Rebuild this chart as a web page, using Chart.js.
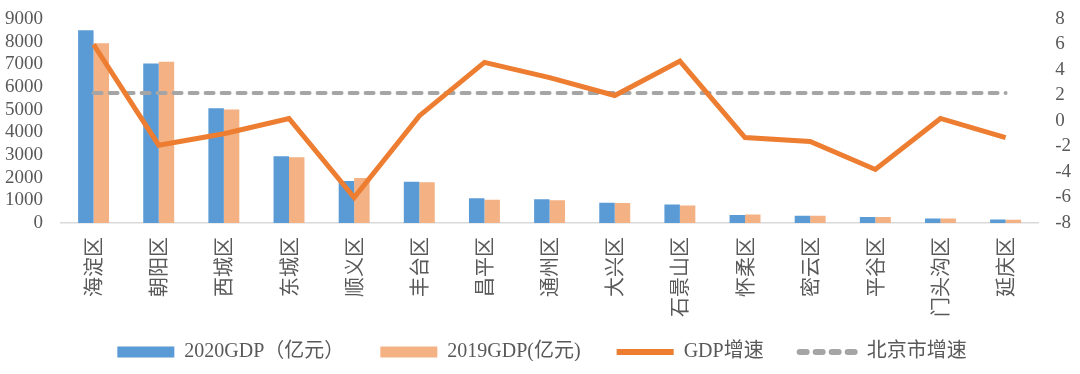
<!DOCTYPE html>
<html>
<head>
<meta charset="utf-8">
<script src="https://cdn.jsdelivr.net/npm/chart.js@4/dist/chart.umd.min.js"></script>
<style>
  html, body { margin: 0; padding: 0; background: #fff; }
  #wrap { width: 1080px; height: 374px; }
</style>
</head>
<body>
<div id="wrap"><canvas id="chart"></canvas></div>
<script>
const districts = ['海淀区', '朝阳区', '西城区', '东城区', '顺义区', '丰台区', '昌平区', '通州区',
  '大兴区', '石景山区', '怀柔区', '密云区', '平谷区', '门头沟区', '延庆区'];
const gdp2020 = [8505, 7037, 5061, 2945, 1854, 1825, 1096, 1052, 890, 816, 350, 320, 263, 202, 158];
const gdp2019 = [7926, 7116, 5007, 2906, 1984, 1797, 1022, 1008, 877, 772, 377, 320, 263, 200, 145];
const gdpGrowth = [6.0, -1.9, -1.0, 0.2, -6.0, 0.4, 4.6, 3.4, 2.0, 4.7, -1.3, -1.6, -3.8, 0.2, -1.3];
const beijingGrowth = [2.2, 2.2, 2.2, 2.2, 2.2, 2.2, 2.2, 2.2, 2.2, 2.2, 2.2, 2.2, 2.2, 2.2, 2.2];

const leftTicks = { min: 0, max: 9000, step: 1000 };
const rightTicks = { min: -8, max: 8, step: 2 };

const serif = "'Liberation Serif', 'Noto Sans CJK SC', serif";
const cjk = "'Noto Sans CJK SC', sans-serif";
const textColor = '#595959';

// drop the extra edge padding chart.js reserves for tick labels
function noEdgePadding(scale) {
  scale.paddingLeft = 0;
  scale.paddingRight = 0;
  scale.paddingTop = 0;
  scale.paddingBottom = 0;
}

// chart.js reserves the tick padding twice on a vertical axis, keep it once
function tightY(scale) {
  noEdgePadding(scale);
  scale.width -= scale.options.ticks.padding;
}

// nudge the legend row up and a touch right, keeps the wide gaps between items
const legendLift = {
  id: 'legendLift',
  afterLayout(chart) {
    const lg = chart.legend;
    lg.top -= 13;
    lg.bottom -= 13;
    lg.left += 4;
    lg.right += 4;
  }
};

new Chart(document.getElementById('chart'), {
  data: {
    labels: districts,
    datasets: [
      {
        type: 'bar',
        label: '2020GDP（亿元）',
        data: gdp2020,
        backgroundColor: '#5B9BD5',
        yAxisID: 'y',
        order: 2,
        categoryPercentage: 0.475,
        barPercentage: 1.0
      },
      {
        type: 'bar',
        label: '2019GDP(亿元)',
        data: gdp2019,
        backgroundColor: '#F4B183',
        yAxisID: 'y',
        order: 2,
        categoryPercentage: 0.475,
        barPercentage: 1.0
      },
      {
        type: 'line',
        label: 'GDP增速',
        data: gdpGrowth,
        borderColor: '#ED7D31',
        backgroundColor: '#ED7D31',
        borderWidth: 5,
        tension: 0,
        pointRadius: 0,
        yAxisID: 'y2',
        order: 0
      },
      {
        type: 'line',
        label: '北京市增速',
        data: beijingGrowth,
        borderColor: '#A5A5A5',
        backgroundColor: '#A5A5A5',
        borderWidth: 4,
        borderDash: [8, 8],
        borderCapStyle: 'round',
        tension: 0,
        pointRadius: 0,
        yAxisID: 'y2',
        order: 1
      }
    ]
  },
  plugins: [legendLift],
  options: {
    responsive: true,
    maintainAspectRatio: false,
    animation: false,
    layout: { padding: { left: 5, right: 9, top: 19, bottom: 0 } },
    plugins: {
      tooltip: { enabled: false },
      legend: {
        position: 'bottom',
        maxHeight: 55,
        labels: {
          usePointStyle: true,
          pointStyleWidth: 57,
          boxHeight: 11,
          padding: 36,
          color: textColor,
          font: { family: serif, size: 20 },
          generateLabels(chart) {
            return chart.data.datasets.map((ds, i) => {
              const isLine = ds.type === 'line';
              const dashed = i === 3;
              return {
                text: ds.label,
                datasetIndex: i,
                fillStyle: isLine ? 'rgba(0,0,0,0)' : ds.backgroundColor,
                strokeStyle: isLine ? ds.borderColor : ds.backgroundColor,
                lineWidth: isLine ? 6 : 0,
                lineDash: dashed ? [7, 9] : [],
                lineCap: dashed ? 'round' : 'butt',
                pointStyle: isLine ? 'line' : 'rect',
                fontColor: textColor,
                hidden: false
              };
            });
          }
        }
      }
    },
    scales: {
      x: {
        grid: { display: false, drawTicks: false },
        border: { display: true, color: '#d9d9d9', width: 1.5 },
        afterFit(scale) {
          noEdgePadding(scale);
          scale.height = 96;
        },
        ticks: {
          minRotation: 90,
          maxRotation: 90,
          autoSkip: false,
          padding: 14,
          color: textColor,
          font: { family: cjk, size: 20 }
        }
      },
      y: {
        position: 'left',
        min: leftTicks.min,
        max: leftTicks.max,
        grid: { display: false, drawTicks: false },
        border: { display: false },
        afterFit: tightY,
        ticks: {
          stepSize: leftTicks.step,
          autoSkip: false,
          padding: 18,
          color: textColor,
          font: { family: serif, size: 19 },
          callback: v => String(v)
        }
      },
      y2: {
        position: 'right',
        min: rightTicks.min,
        max: rightTicks.max,
        grid: { display: false, drawTicks: false },
        border: { display: false },
        afterFit: tightY,
        ticks: {
          stepSize: rightTicks.step,
          autoSkip: false,
          padding: 17,
          color: textColor,
          font: { family: serif, size: 19 },
          callback: v => String(v)
        }
      }
    }
  }
});
</script>
</body>
</html>
